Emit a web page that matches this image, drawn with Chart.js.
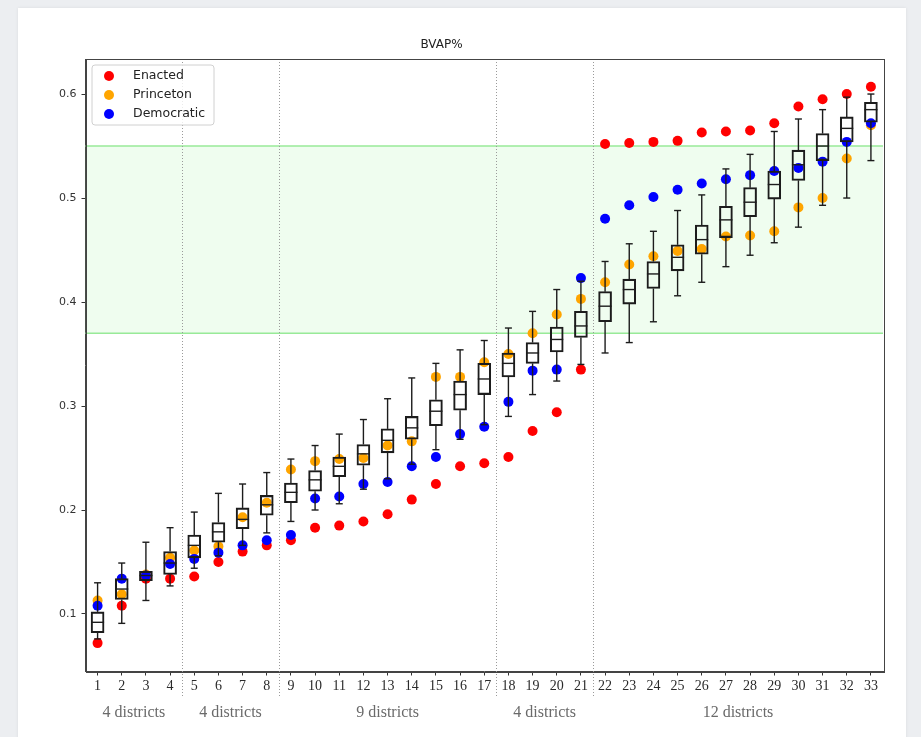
<!DOCTYPE html>
<html lang="en">
<head>
    <meta charset="UTF-8">
    <title>BVAP%</title>
    <style>
        body {
            margin: 0;
            width: 921px;
            height: 737px;
            overflow: hidden;
            position: relative;
            background-color: #eceef1;
        }

        .card {
            position: absolute;
            left: 18px;
            top: 8px;
            width: 888px;
            height: 760px;
            background: #fff;
            box-shadow: 0 0 3px rgba(0, 0, 0, 0.08);
        }

        #bvapChart {
            position: absolute;
            left: 0;
            top: 0;
        }
    </style>
</head>
<body>
    <div class="card"></div>
    <canvas id="bvapChart" width="921" height="737"></canvas>

    <script src="https://cdn.jsdelivr.net/npm/chart.js"></script>
    <script>
        // districts sorted by BVAP, with the ensemble box stats for each one
        const districts = [1, 2, 3, 4, 5, 6, 7, 8, 9, 10, 11, 12, 13, 14, 15, 16, 17,
            18, 19, 20, 21, 22, 23, 24, 25, 26, 27, 28, 29, 30, 31, 32, 33];
        const whiskerLow = [0.076, 0.091, 0.113, 0.127, 0.144, 0.156, 0.166, 0.178, 0.189, 0.200, 0.206,
            0.220, 0.230, 0.244, 0.258, 0.268, 0.282, 0.290, 0.311, 0.324, 0.340, 0.351,
            0.361, 0.381, 0.406, 0.419, 0.434, 0.445, 0.457, 0.472, 0.493, 0.500, 0.536];
        const boxLow = [0.082, 0.114, 0.132, 0.138, 0.154, 0.169, 0.182, 0.195, 0.207, 0.218, 0.232,
            0.243, 0.255, 0.268, 0.281, 0.296, 0.311, 0.328, 0.341, 0.352, 0.366, 0.381,
            0.398, 0.413, 0.430, 0.446, 0.462, 0.482, 0.499, 0.517, 0.536, 0.554, 0.573];
        const boxMid = [0.092, 0.124, 0.137, 0.149, 0.166, 0.179, 0.191, 0.205, 0.217, 0.229, 0.242,
            0.254, 0.267, 0.279, 0.295, 0.311, 0.326, 0.341, 0.351, 0.364, 0.377, 0.396,
            0.412, 0.427, 0.443, 0.460, 0.479, 0.496, 0.513, 0.532, 0.550, 0.567, 0.585];
        const boxHigh = [0.102, 0.134, 0.141, 0.160, 0.176, 0.188, 0.202, 0.214, 0.226, 0.238, 0.251,
            0.263, 0.278, 0.290, 0.306, 0.324, 0.341, 0.351, 0.361, 0.376, 0.391, 0.410,
            0.422, 0.439, 0.455, 0.474, 0.492, 0.510, 0.526, 0.546, 0.562, 0.578, 0.592];
        const whiskerHigh = [0.130, 0.149, 0.169, 0.183, 0.198, 0.216, 0.225, 0.236, 0.249, 0.262, 0.273,
            0.287, 0.307, 0.327, 0.341, 0.354, 0.363, 0.375, 0.391, 0.412, 0.420, 0.439,
            0.456, 0.468, 0.488, 0.503, 0.528, 0.542, 0.564, 0.576, 0.585, 0.597, 0.600];

        // plan values per district
        const enacted = [0.072, 0.108, 0.134, 0.134, 0.136, 0.150, 0.160, 0.166, 0.171, 0.183, 0.185,
            0.189, 0.196, 0.210, 0.225, 0.242, 0.245, 0.251, 0.276, 0.294, 0.335, 0.552,
            0.553, 0.554, 0.555, 0.563, 0.564, 0.565, 0.572, 0.588, 0.595, 0.600, 0.607];
        const princeton = [0.113, 0.119, 0.138, 0.154, 0.161, 0.165, 0.193, 0.207, 0.239, 0.247, 0.249,
            0.250, 0.262, 0.266, 0.328, 0.328, 0.342, 0.350, 0.370, 0.388, 0.403, 0.419,
            0.436, 0.444, 0.449, 0.451, 0.463, 0.464, 0.468, 0.491, 0.500, 0.538, 0.570];
        const democratic = [0.108, 0.134, 0.137, 0.148, 0.153, 0.159, 0.166, 0.171, 0.176, 0.211, 0.213,
            0.225, 0.227, 0.242, 0.251, 0.273, 0.280, 0.304, 0.334, 0.335, 0.423, 0.480,
            0.493, 0.501, 0.508, 0.514, 0.518, 0.522, 0.526, 0.529, 0.535, 0.554, 0.572];

        const yTicks = [0.1, 0.2, 0.3, 0.4, 0.5, 0.6];
        const targetBand = [0.37, 0.55];
        const groupLabels = ['4 districts', '4 districts', '9 districts', '4 districts', '12 districts'];
        const groupFirst = [1, 5, 9, 18, 22];
        const groupLast = [4, 8, 17, 21, 33];

        const BOX_WIDTH = 13;
        const CAP_WIDTH = 7;

        function hLine(ctx, x1, x2, y) {
            ctx.beginPath();
            ctx.moveTo(x1, y);
            ctx.lineTo(x2, y);
            ctx.stroke();
        }

        function vLine(ctx, x, y1, y2) {
            ctx.beginPath();
            ctx.moveTo(x, y1);
            ctx.lineTo(x, y2);
            ctx.stroke();
        }

        // green target band and dotted group separators, under the marks
        const backdrop = {
            id: 'backdrop',
            beforeDatasetsDraw(chart) {
                const { ctx, chartArea: area, scales: { x, y } } = chart;
                const top = y.getPixelForValue(targetBand[1]);
                const bottom = y.getPixelForValue(targetBand[0]);
                ctx.save();
                ctx.fillStyle = 'rgba(144, 238, 144, 0.14)';
                ctx.fillRect(area.left, top, area.right - area.left, bottom - top);
                ctx.strokeStyle = '#98ea98';
                ctx.lineWidth = 1.5;
                hLine(ctx, area.left, area.right, top);
                hLine(ctx, area.left, area.right, bottom);

                ctx.strokeStyle = '#9a9a9a';
                ctx.lineWidth = 1;
                ctx.setLineDash([1, 2]);
                groupLast.slice(0, -1).forEach(last => {
                    const px = Math.round(x.getPixelForValue(last + 0.5)) + 0.5;
                    vLine(ctx, px, area.top, area.bottom + 26);
                });
                ctx.restore();
            }
        };

        // whiskers, caps and medians on top of the box outlines
        const boxLines = {
            id: 'boxLines',
            afterDatasetsDraw(chart) {
                const { ctx, scales: { x, y } } = chart;
                ctx.save();
                ctx.strokeStyle = '#1c1c1c';
                ctx.lineWidth = 1.4;
                districts.forEach((d, i) => {
                    const px = x.getPixelForValue(d);
                    const yLo = y.getPixelForValue(whiskerLow[i]);
                    const yQ1 = y.getPixelForValue(boxLow[i]);
                    const yMed = y.getPixelForValue(boxMid[i]);
                    const yQ3 = y.getPixelForValue(boxHigh[i]);
                    const yHi = y.getPixelForValue(whiskerHigh[i]);
                    hLine(ctx, px - BOX_WIDTH / 2, px + BOX_WIDTH / 2, yMed);
                    vLine(ctx, px, yQ3, yHi);
                    vLine(ctx, px, yQ1, yLo);
                    hLine(ctx, px - CAP_WIDTH / 2, px + CAP_WIDTH / 2, yHi);
                    hLine(ctx, px - CAP_WIDTH / 2, px + CAP_WIDTH / 2, yLo);
                });
                ctx.restore();
            }
        };

        // closed frame plus the boxed legend in the upper left corner
        const frameAndLegend = {
            id: 'frameAndLegend',
            afterDraw(chart) {
                const { ctx, chartArea: area } = chart;
                ctx.save();
                ctx.strokeStyle = '#444';
                ctx.lineWidth = 1;
                ctx.strokeRect(Math.round(area.left) + 0.5, Math.round(area.top) + 0.5,
                    Math.round(area.right - area.left), Math.round(area.bottom - area.top));

                const series = chart.data.datasets.filter(ds => ds.type === 'scatter');
                const bx = area.left + 6.5, by = area.top + 6, bw = 122, bh = 60;
                ctx.beginPath();
                ctx.roundRect(bx, by, bw, bh, 3);
                ctx.fillStyle = 'rgba(255, 255, 255, 0.8)';
                ctx.fill();
                ctx.strokeStyle = '#d0d0d0';
                ctx.stroke();

                ctx.font = '12.5px "DejaVu Sans"';
                ctx.textBaseline = 'middle';
                series.forEach((ds, i) => {
                    const rowY = by + 11 + i * 19;
                    ctx.beginPath();
                    ctx.arc(bx + 17, rowY, 5, 0, Math.PI * 2);
                    ctx.fillStyle = ds.backgroundColor;
                    ctx.fill();
                    ctx.fillStyle = '#222';
                    ctx.fillText(ds.label, bx + 41, rowY);
                });
                ctx.restore();
            }
        };

        const pointSeries = (label, values, color, order) => ({
            type: 'scatter',
            label: label,
            data: districts.map((d, i) => ({ x: d, y: values[i] })),
            backgroundColor: color,
            borderWidth: 0,
            pointRadius: 5,
            pointHoverRadius: 5,
            order: order
        });

        const ctx = document.getElementById('bvapChart').getContext('2d');

        new Chart(ctx, {
            type: 'scatter',
            data: {
                datasets: [
                    pointSeries('Enacted', enacted, '#ff0000', 3),
                    pointSeries('Princeton', princeton, '#ffa500', 2),
                    pointSeries('Democratic', democratic, '#0000ff', 1),
                    {
                        type: 'bar',
                        label: 'Ensemble',
                        data: districts.map((d, i) => ({ x: d, y: [boxLow[i], boxHigh[i]] })),
                        backgroundColor: 'rgba(0, 0, 0, 0)',
                        borderColor: '#1c1c1c',
                        borderWidth: 1.4,
                        borderSkipped: false,
                        barThickness: BOX_WIDTH,
                        order: 0
                    }
                ]
            },
            options: {
                responsive: false,
                animation: false,
                events: [],
                layout: {
                    padding: { left: 0, right: 38, top: 0, bottom: 0 }
                },
                plugins: {
                    legend: { display: false },
                    tooltip: { enabled: false },
                    title: {
                        display: true,
                        text: 'BVAP%',
                        color: '#222',
                        font: { family: 'DejaVu Sans', size: 12, weight: 'normal' },
                        padding: { top: 38, bottom: 6.6 }
                    }
                },
                scales: {
                    x: {
                        type: 'linear',
                        position: 'bottom',
                        min: 0.5,
                        max: 33.5,
                        offset: false,
                        afterBuildTicks: scale => {
                            scale.ticks = districts.map(v => ({ value: v }));
                        },
                        afterFit: scale => { scale.height = 28; },
                        ticks: {
                            autoSkip: false,
                            maxRotation: 0,
                            padding: 2.5,
                            color: '#2a2a2a',
                            font: { family: 'Liberation Serif', size: 14 },
                            callback: v => String(v)
                        },
                        grid: { offset: false, drawOnChartArea: false, color: '#333', tickLength: 4 },
                        border: { color: '#444' }
                    },
                    groups: {
                        type: 'linear',
                        position: 'bottom',
                        min: 0.5,
                        max: 33.5,
                        offset: false,
                        afterBuildTicks: scale => {
                            scale.ticks = groupFirst.map((f, i) => ({ value: (f + groupLast[i]) / 2 }));
                        },
                        afterFit: scale => { scale.height = 37.5; },
                        ticks: {
                            autoSkip: false,
                            maxRotation: 0,
                            padding: 4,
                            color: '#6a6a6a',
                            font: { family: 'Liberation Serif', size: 16 },
                            callback: (v, i) => groupLabels[i]
                        },
                        grid: { display: false, drawTicks: false },
                        border: { display: false }
                    },
                    y: {
                        type: 'linear',
                        min: 0.0447,
                        max: 0.6337,
                        afterBuildTicks: scale => {
                            scale.ticks = yTicks.map(v => ({ value: v }));
                        },
                        afterFit: scale => { scale.width = 85.5; },
                        ticks: {
                            padding: 5,
                            color: '#333',
                            font: { family: 'DejaVu Sans', size: 11 },
                            callback: v => v.toFixed(1)
                        },
                        grid: { drawOnChartArea: false, color: '#333', tickLength: 4 },
                        border: { color: '#444' }
                    }
                }
            },
            plugins: [backdrop, boxLines, frameAndLegend]
        });
    </script>
</body>
</html>
